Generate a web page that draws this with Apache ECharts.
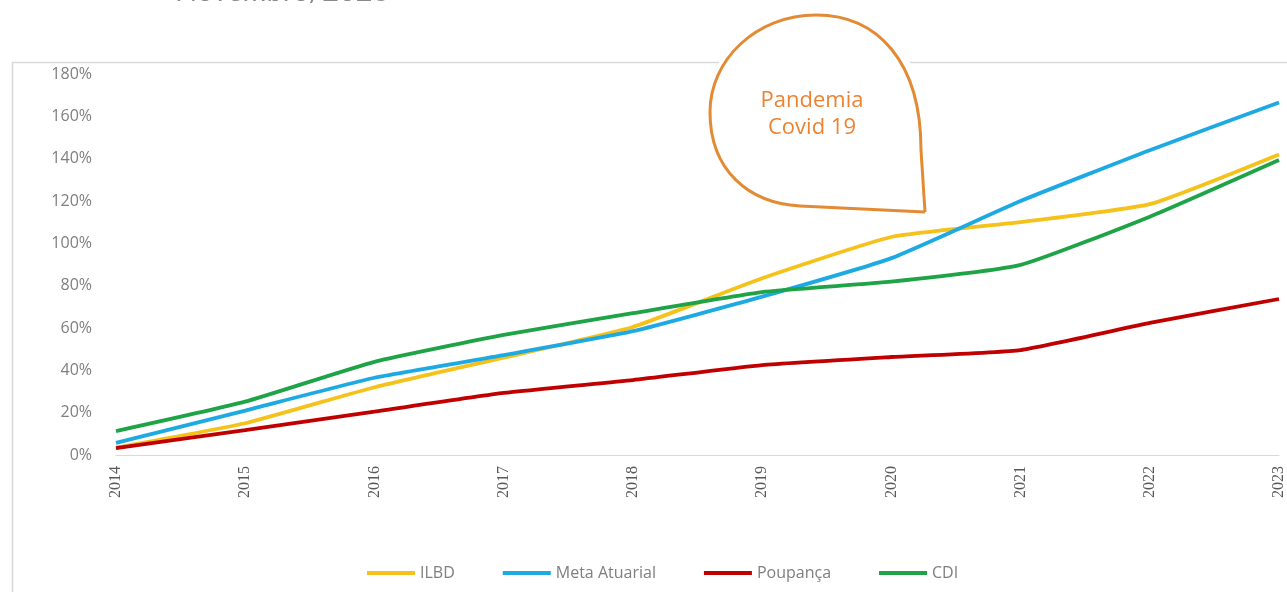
<!DOCTYPE html>
<html>
<head>
<meta charset="utf-8">
<script src="https://cdn.jsdelivr.net/npm/echarts@6/dist/echarts.min.js"></script>
<style>
  html, body { margin: 0; padding: 0; background: #fff; }
  #chart { width: 1287px; height: 592px; }
</style>
</head>
<body>
<div id="chart"></div>
<script>
const years = ["2014", "2015", "2016", "2017", "2018", "2019", "2020", "2021", "2022", "2023"];
const ilbd = [0.035, 0.15, 0.32, 0.46, 0.605, 0.835, 1.03, 1.10, 1.185, 1.42];
const metaAtuarial = [0.057, 0.21, 0.365, 0.472, 0.585, 0.748, 0.93, 1.20, 1.44, 1.665];
const poupanca = [0.033, 0.118, 0.205, 0.293, 0.354, 0.425, 0.463, 0.496, 0.624, 0.737];
const cdi = [0.113, 0.252, 0.44, 0.567, 0.67, 0.77, 0.819, 0.898, 1.126, 1.394];

const colors = ["#F5C21B", "#1DAAE2", "#C00000", "#1FA347"];

const chart = echarts.init(document.getElementById("chart"));

function lineSeries(name, data, color) {
  return {
    name: name,
    type: "line",
    data: data,
    smooth: 0.15,
    showSymbol: false,
    lineStyle: { width: 3.8, color: color },
    itemStyle: { color: color },
  };
}

// callout bubble outline pieces
const bubbleStyle = { stroke: "#E38B34", lineWidth: 3, fill: "none" };
function curve(x1, y1, cpx1, cpy1, cpx2, cpy2, x2, y2) {
  return { type: "bezierCurve", shape: { x1, y1, cpx1, cpy1, cpx2, cpy2, x2, y2 }, style: bubbleStyle, silent: true };
}
function seg(x1, y1, x2, y2) {
  return { type: "line", shape: { x1, y1, x2, y2 }, style: bubbleStyle, silent: true };
}

chart.setOption({
  animation: false,
  textStyle: { fontFamily: "Lato, 'Open Sans', sans-serif" },
  grid: { left: 116, right: 3, top: 74, bottom: 137, containLabel: false },
  legend: {
    left: 362,
    top: 560,
    icon: "rect",
    itemWidth: 48,
    itemHeight: 4,
    itemGap: 48,
    textStyle: { color: "#7f7f7f", fontSize: 16, fontFamily: "'Open Sans', sans-serif" },
    data: ["ILBD", "Meta Atuarial", "Poupança", "CDI"],
  },
  xAxis: {
    type: "category",
    data: years,
    boundaryGap: false,
    axisLine: { lineStyle: { color: "#d9d9d9", width: 1 } },
    axisTick: { show: false },
    axisLabel: {
      rotate: 90,
      margin: 11,
      color: "#595959",
      fontSize: 16,
      fontFamily: "'Liberation Serif', serif",
      showMaxLabel: true,
    },
  },
  yAxis: {
    type: "value",
    min: 0,
    max: 1.8,
    interval: 0.2,
    axisLine: { show: false },
    axisTick: { show: false },
    splitLine: { show: false },
    axisLabel: {
      margin: 24,
      color: "#7f7f7f",
      fontSize: 16,
      fontFamily: "'Open Sans', sans-serif",
      formatter: (v) => Math.round(v * 100) + "%",
    },
  },
  graphic: [
    {
      type: "rect",
      shape: { x: 12.5, y: 62.5, width: 1400, height: 700 },
      style: { fill: "none", stroke: "#d9d9d9", lineWidth: 1.5 },
      silent: true,
    },
    {
      type: "text",
      x: 175,
      y: -23,
      style: { text: "Novembro/2023", fill: "#8a8a8a", fontSize: 29, fontFamily: "Lato, sans-serif" },
    },
    // white interior of the callout, hides the frame line behind it
    {
      type: "rect",
      shape: { x: 719, y: 59, width: 191, height: 7 },
      style: { fill: "#ffffff" },
      silent: true,
    },
    seg(925, 212, 921, 150),
    curve(921, 150, 921, 62, 878, 15, 816, 15),
    curve(816, 15, 756, 15, 710, 60, 710, 112),
    curve(710, 112, 710, 170, 748, 203, 800, 206),
    seg(800, 206, 925, 212),
    {
      type: "text",
      x: 812,
      y: 114,
      style: {
        text: "Pandemia\nCovid 19",
        fill: "#EC8332",
        fontSize: 22,
        lineHeight: 27,
        align: "center",
        verticalAlign: "middle",
        fontFamily: "'Open Sans', sans-serif",
      },
    },
  ],
  series: [
    lineSeries("ILBD", ilbd, colors[0]),
    lineSeries("Meta Atuarial", metaAtuarial, colors[1]),
    lineSeries("Poupança", poupanca, colors[2]),
    lineSeries("CDI", cdi, colors[3]),
  ],
});
</script>
</body>
</html>
